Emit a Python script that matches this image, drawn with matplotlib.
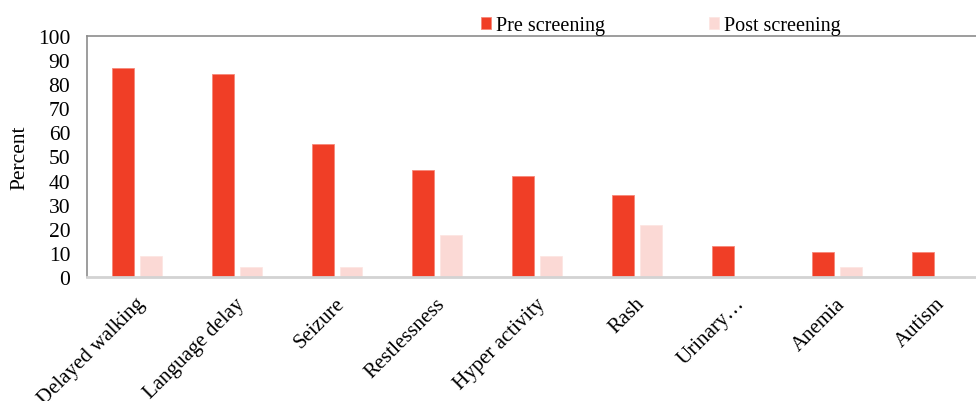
import numpy as np
import matplotlib.pyplot as plt
import matplotlib.transforms as mtransforms

plt.rcParams['font.family'] = ['Liberation Serif', 'DejaVu Serif']

# Symptoms reported before and after screening (percent)
symptoms = ["Delayed walking", "Language delay", "Seizure", "Restlessness",
            "Hyper activity", "Rash", "Urinary\u2026", "Anemia", "Autism"]
pre_screening = [86.7, 84.1, 55.2, 44.6, 42.1, 34.1, 13.0, 10.3, 10.3]
post_screening = [8.7, 4.3, 4.3, 17.4, 8.7, 21.7, 0, 4.3, 0]

PRE_COLOR = "#F03E26"
POST_COLOR = "#FBD9D5"
FS = 14.5

fig = plt.figure(figsize=(9.76, 4.02), dpi=100)
# the plot area runs slightly past the right edge of the figure
ax = fig.add_axes([87 / 976, 1 - 278 / 402, 900 / 976, 241 / 402])

x = np.arange(len(symptoms))
w = 0.22
ax.bar(x - 0.14, pre_screening, w, color=PRE_COLOR, label="Pre screening",
       edgecolor="#F6887A", linewidth=0.6)
ax.bar(x + 0.14, post_screening, w, color=POST_COLOR, label="Post screening",
       edgecolor="#FDE6E3", linewidth=0.6)

ax.set_xlim(-0.5, len(symptoms) - 0.5)
ax.set_ylim(0, 100)
ax.set_yticks(range(0, 101, 10))
ax.tick_params(axis="y", length=0, pad=12, labelsize=FS + 1)
ax.tick_params(axis="x", length=0, pad=17, labelsize=FS + 0.5)
ax.set_xticks(x)
ax.set_xticklabels(symptoms, rotation=45, ha="right", va="center",
                   rotation_mode="anchor")
shift = mtransforms.ScaledTranslation(5 / 100, 0, fig.dpi_scale_trans)
for lbl in ax.get_xticklabels():
    lbl.set_transform(lbl.get_transform() + shift)
ax.set_ylabel("Percent", fontsize=FS + 1, labelpad=6)

for side in ["left", "top"]:
    ax.spines[side].set_color("#8C8C8C")
    ax.spines[side].set_linewidth(1.2)
ax.spines["bottom"].set_color("#D3D3D3")
ax.spines["bottom"].set_linewidth(2)
ax.spines["right"].set_visible(False)

ax.legend(loc="lower left", bbox_to_anchor=(0.438, 1.003), ncol=2, frameon=False,
          fontsize=FS, handlelength=0.5, handleheight=0.5, handletextpad=0.25,
          columnspacing=5.15, borderaxespad=0, borderpad=0)

fig.savefig("out.png", dpi=100)
